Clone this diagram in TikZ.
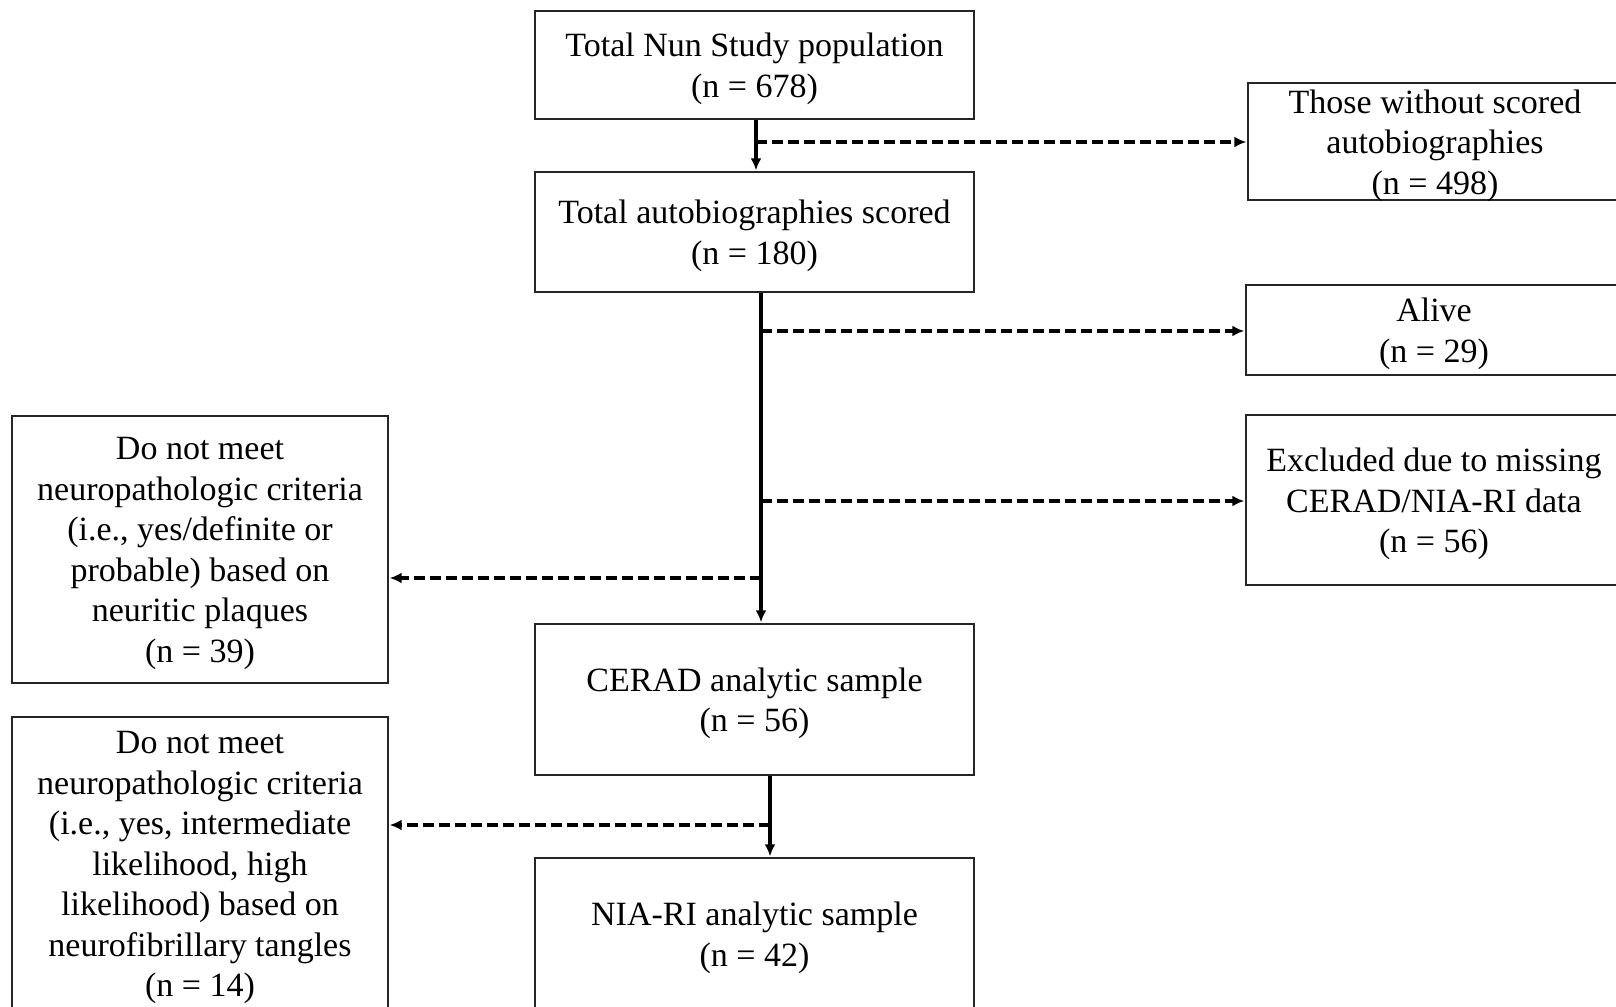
\documentclass[tikz,border=0pt]{standalone}
\usepackage{fontspec}
\setmainfont{Liberation Serif}
\usetikzlibrary{arrows.meta}
\begin{document}
\begin{tikzpicture}[x=1pt,y=-1pt,
  box/.style={draw=black!85,line width=1.4pt,inner sep=0pt},
  txt/.style={align=center,inner sep=0pt,yshift=-4pt,
    font=\fontsize{34}{40.5}\selectfont},
  flow/.style={line width=3.5pt,-{Latex[length=12pt,width=11pt]},shorten >=1pt},
  side/.style={line width=3.5pt,dash pattern=on 11pt off 5pt,-{Latex[length=12pt,width=11pt]},shorten >=1pt}]
\useasboundingbox (0,0) rectangle (1616,1006);
\clip (0,0) rectangle (1616,1006);
\fill[white] (0,0) rectangle (1616,1006);
% main column
\node[box,minimum width=439pt,minimum height=108pt,
  label={[txt]center:{Total Nun Study population\\(n = 678)}}] (top) at (754.5,65) {};
\node[box,minimum width=439pt,minimum height=120pt,
  label={[txt]center:{Total autobiographies scored\\(n = 180)}}] (auto) at (754.5,232) {};
\node[box,minimum width=439pt,minimum height=151pt,
  label={[txt]center:{CERAD analytic sample\\(n = 56)}}] (cerad) at (754.5,699.5) {};
\node[box,minimum width=439pt,minimum height=152pt,
  label={[txt]center:{NIA-RI analytic sample\\(n = 42)}}] (nia) at (754.5,934) {};
% right column
\node[box,minimum width=374pt,minimum height=117pt,
  label={[txt]center:{Those without scored\\autobiographies\\(n = 498)}}] (without) at (1435,141.5) {};
\node[box,minimum width=376pt,minimum height=90pt,
  label={[txt]center:{Alive\\(n = 29)}}] (alive) at (1434,330) {};
\node[box,minimum width=376pt,minimum height=170pt,
  label={[txt]center:{Excluded due to missing\\CERAD/NIA-RI data\\(n = 56)}}] (excl) at (1434,500) {};
% left column
\node[box,minimum width=376pt,minimum height=267pt,
  label={[txt]center:{Do not meet\\neuropathologic criteria\\(i.e., yes/definite or\\probable) based on\\neuritic plaques\\(n = 39)}}] (np) at (200,549.5) {};
\node[box,minimum width=376pt,minimum height=293pt,
  label={[txt]center:{Do not meet\\neuropathologic criteria\\(i.e., yes, intermediate\\likelihood, high\\likelihood) based on\\neurofibrillary tangles\\(n = 14)}}] (nft) at (200,863.5) {};
% junction coordinates
\coordinate (c1) at (756,142);
\coordinate (c2) at (761,331);
\coordinate (c3) at (761,501);
\coordinate (c4) at (761,578);
\coordinate (c5) at (770,825);
% connectors
\draw[flow] (top.south -| c1) -- (auto.north -| c1);
\draw[side] (c1) -- (c1 -| without.west);
\draw[flow] (auto.south -| c2) -- (cerad.north -| c2);
\draw[side] (c2) -- (c2 -| alive.west);
\draw[side] (c3) -- (c3 -| excl.west);
\draw[side] (c4) -- (c4 -| np.east);
\draw[flow] (cerad.south -| c5) -- (nia.north -| c5);
\draw[side] (c5) -- (c5 -| nft.east);
\end{tikzpicture}
\end{document}
